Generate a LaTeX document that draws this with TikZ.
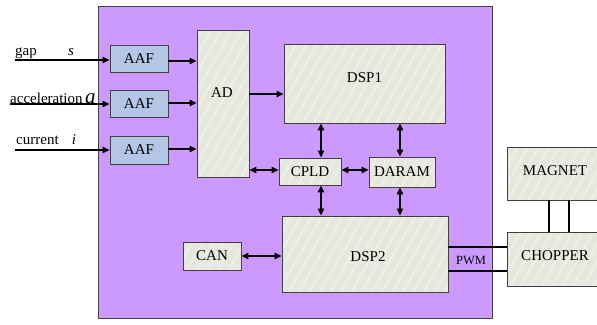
\documentclass[tikz,border=0pt]{standalone}
\usepackage{fontspec}
\setmainfont{Liberation Serif}
\usetikzlibrary{arrows.meta,patterns.meta}
\definecolor{frameP}{HTML}{CC99FF}
\definecolor{aafB}{HTML}{B3C6E5}
\definecolor{gfill}{HTML}{E6E8DE}
\definecolor{ghatch}{HTML}{EFF0E9}
\definecolor{edge}{HTML}{404040}
\tikzset{
  boxbase/.style={draw=edge, line width=0.9pt, inner sep=0pt, anchor=center,
    font=\rmfamily\fontsize{15}{18}\selectfont},
  gbox/.style={boxbase, preaction={fill=gfill},
    preaction={pattern={Lines[angle=60,distance=9pt,line width=1.6pt]}, pattern color=ghatch}},
  abox/.style={boxbase, fill=aafB},
  txt/.style={inner sep=0pt, font=\rmfamily\fontsize{15}{18}\selectfont},
  arr/.style={line width=1.2pt, -{Triangle[length=7pt,width=6.5pt]}},
  darr/.style={line width=1.2pt, {Triangle[length=7pt,width=6.5pt]}-{Triangle[length=7pt,width=6.5pt]}},
  thick2/.style={line width=2.4pt},
}
\begin{document}
\begin{tikzpicture}[x=1pt,y=-1pt]
\clip (0,0) rectangle (597,324);
\fill[white] (0,0) rectangle (597,324);
% frame
\draw[fill=frameP, draw=edge, line width=1pt] (98,6) rectangle (492,318);
% blocks
\node[abox, minimum width=58pt, minimum height=27pt] (aaf1) at (139,58.5) {AAF};
\node[abox, minimum width=58pt, minimum height=27pt] (aaf2) at (139,103.5) {AAF};
\node[abox, minimum width=58pt, minimum height=28pt] (aaf3) at (139,150) {AAF};
\node[gbox, minimum width=52pt, minimum height=147pt] (ad) at (223,103.5) {};
\node[txt] (adt) at (222,93) {AD};
\node[gbox, minimum width=161pt, minimum height=79pt] (dsp1) at (364.5,83.5) {};
\node[txt] (dsp1t) at (364.5,78) {DSP1};
\node[gbox, minimum width=62pt, minimum height=27pt] (cpld) at (310,171.5) {CPLD};
\node[gbox, minimum width=66pt, minimum height=30pt] (daram) at (402,172) {DARAM};
\node[gbox, minimum width=166pt, minimum height=76pt] (dsp2) at (365,254) {};
\node[txt] (dsp2t) at (368,257) {DSP2};
\node[gbox, minimum width=58pt, minimum height=28pt] (can) at (212,256) {CAN};
\node[gbox, minimum width=96pt, minimum height=53pt] (magnet) at (555,173.5) {};
\node[txt] (magt) at (555,171) {MAGNET};
\node[gbox, minimum width=96pt, minimum height=54pt] (chopper) at (555,259) {};
\node[txt] (chopt) at (555,256) {CHOPPER};
% input labels
\node[txt, anchor=base west] (lgap) at (15,55) {gap};
\node[txt, anchor=base] (ls) at (71,55) {\itshape s};
\node[txt, anchor=base west] (lacc) at (10,103) {acceleration};
\node[txt, anchor=base west, font=\rmfamily\fontsize{21}{24}\selectfont] (la) at (85,103) {\itshape a};
\node[txt, anchor=base west] (lcur) at (16,144) {current};
\node[txt, anchor=base] (li) at (74,144) {\itshape i};
% input arrows
\coordinate (in1) at (15,60);
\coordinate (in2) at (10,104);
\coordinate (in3) at (15,150);
\draw[arr] (in1) -- (in1 -| aaf1.west);
\draw[arr] (in2) -- (in2 -| aaf2.west);
\draw[arr] (in3) -- (in3 -| aaf3.west);
% AAF -> AD
\draw[arr] (aaf1.east |- 0,61) -- (ad.west |- 0,61);
\draw[arr] (aaf2.east |- 0,103) -- (ad.west |- 0,103);
\draw[arr] (aaf3.east |- 0,149) -- (ad.west |- 0,149);
% AD -> DSP1
\draw[arr] (ad.east |- 0,94) -- (dsp1.west |- 0,94);
% AD <-> CPLD <-> DARAM
\draw[darr] (ad.east |- 0,170) -- (cpld.west |- 0,170);
\draw[darr] (cpld.east |- 0,170) -- (daram.west |- 0,170);
% vertical links
\draw[darr] (cpld.north -| 321,0) -- (dsp1.south -| 321,0);
\draw[darr] (daram.north -| 400,0) -- (dsp1.south -| 400,0);
\draw[darr] (cpld.south -| 321,0) -- (dsp2.north -| 321,0);
\draw[darr] (daram.south -| 400,0) -- (dsp2.north -| 400,0);
% CAN <-> DSP2
\draw[darr] (can.east) -- (can.east -| dsp2.west);
% PWM
\draw[thick2] (dsp2.east |- 0,247) -- (chopper.west |- 0,247);
\draw[thick2] (dsp2.east |- 0,271) -- (chopper.west |- 0,271);
\node[txt, font=\rmfamily\fontsize{12.5}{15}\selectfont] (pwm) at (471,260) {PWM};
% MAGNET - CHOPPER
\draw[thick2] (magnet.south -| 549,0) -- (chopper.north -| 549,0);
\draw[thick2] (magnet.south -| 569,0) -- (chopper.north -| 569,0);
\end{tikzpicture}
\end{document}
